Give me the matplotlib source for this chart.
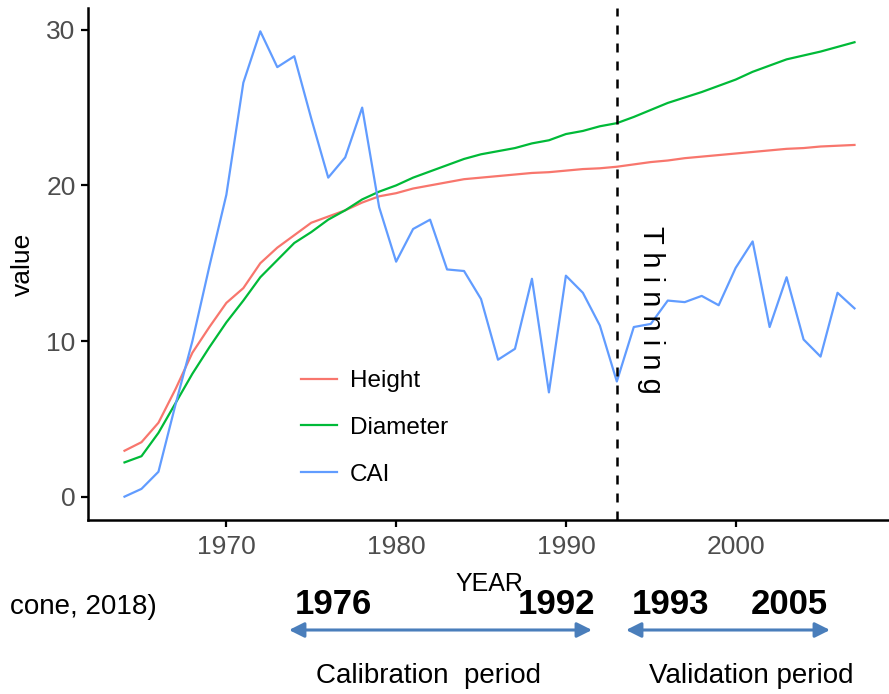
import matplotlib.pyplot as plt

plt.rcParams['font.family'] = ['Liberation Sans', 'DejaVu Sans']

# Data
years = list(range(1964, 2008))
height = [2.95, 3.5, 4.75, 6.9, 9.25, 10.9, 12.45, 13.4, 15.0, 16.0,
          16.8, 17.6, 18.0, 18.4, 18.9, 19.3, 19.5, 19.8, 20.0, 20.2,
          20.4, 20.5, 20.6, 20.7, 20.8, 20.85, 20.95, 21.05, 21.1, 21.2,
          21.35, 21.5, 21.6, 21.75, 21.85, 21.95, 22.05, 22.15, 22.25, 22.35,
          22.4, 22.5, 22.55, 22.6]
diameter = [2.2, 2.6, 4.1, 6.0, 7.9, 9.6, 11.2, 12.6, 14.1, 15.2,
            16.3, 17.0, 17.8, 18.4, 19.1, 19.6, 20.0, 20.5, 20.9, 21.3,
            21.7, 22.0, 22.2, 22.4, 22.7, 22.9, 23.3, 23.5, 23.8, 24.0,
            24.4, 24.85, 25.3, 25.65, 26.0, 26.4, 26.8, 27.3, 27.7, 28.1,
            28.35, 28.6, 28.9, 29.2]
cai = [0.0, 0.5, 1.6, 5.9, 10.0, 14.8, 19.4, 26.6, 29.9, 27.6,
       28.3, 24.3, 20.5, 21.8, 25.0, 18.6, 15.1, 17.2, 17.8, 14.6,
       14.5, 12.7, 8.8, 9.5, 14.0, 6.7, 14.2, 13.1, 11.0, 7.4,
       10.9, 11.1, 12.6, 12.5, 12.9, 12.3, 14.7, 16.4, 10.9, 14.1,
       10.1, 9.0, 13.1, 12.1]
series_names = ['Height', 'Diameter', 'CAI']
series_colors = ['#F8766D', '#00BA38', '#619CFF']
thinning_year = 1993

W, H = 889, 694
fig = plt.figure(figsize=(W / 100, H / 100), dpi=100)
ax = fig.add_axes([88 / W, 1 - 520 / H, (891 - 88) / W, (520 - 8) / H])

for vals, name, col in zip([height, diameter, cai], series_names, series_colors):
    ax.plot(years, vals, color=col, lw=1.6, label=name)

ax.axvline(thinning_year, color='black', lw=1.8, dashes=(3.6, 3.6))
ax.text(1995.0, 12.0, 'T h i n n i n g', rotation=-90, ha='center', va='center',
        fontsize=21, color='black')

ax.set_xlim(1961.85, 2009.15)
ax.set_ylim(-1.5, 31.4)
ax.set_xticks([1970, 1980, 1990, 2000])
ax.set_yticks([0, 10, 20, 30])
ax.spines[['top', 'right']].set_visible(False)
for s in ['left', 'bottom']:
    ax.spines[s].set_linewidth(1.8)
ax.tick_params(length=5, width=1.6, labelsize=19, labelcolor='#4D4D4D')
ax.tick_params(axis='x', pad=6)
ax.tick_params(axis='y', pad=4)
ax.set_xlabel('YEAR', fontsize=18, labelpad=9)
ax.set_ylabel('value', fontsize=19, labelpad=8)

ax.legend(loc='center left', bbox_to_anchor=(0.2653, 0.1797), frameon=False,
          fontsize=17.5, handlelength=1.5, handletextpad=0.5, labelspacing=1.02,
          borderpad=0, borderaxespad=0)

# Annotations below the chart (figure pixel positions converted to fractions)
def fx(x):
    return x / W

def fy(y):
    return 1 - y / H

fig.text(fx(157), fy(607), 'cone, 2018)', ha='right', va='center', fontsize=20)
for label, xc in [('1976', 333), ('1992', 557), ('1993', 670), ('2005', 789)]:
    fig.text(fx(xc), fy(605), label, ha='center', va='center', fontsize=25,
             fontweight='bold')

arrow_col = '#4A7EBB'
for x0, x1 in [(289, 592), (626, 830)]:
    ax.annotate('', xy=(fx(x1), fy(630)), xytext=(fx(x0), fy(630)),
                xycoords='figure fraction', textcoords='figure fraction',
                arrowprops=dict(arrowstyle='<|-|>,head_length=0.9,head_width=0.45',
                                color=arrow_col, lw=2.2, shrinkA=0, shrinkB=0,
                                mutation_scale=10))

fig.text(fx(428), fy(676), 'Calibration  period', ha='center', va='center', fontsize=20)
fig.text(fx(751), fy(676), 'Validation period', ha='center', va='center', fontsize=20)

fig.savefig('out.png', dpi=100)
